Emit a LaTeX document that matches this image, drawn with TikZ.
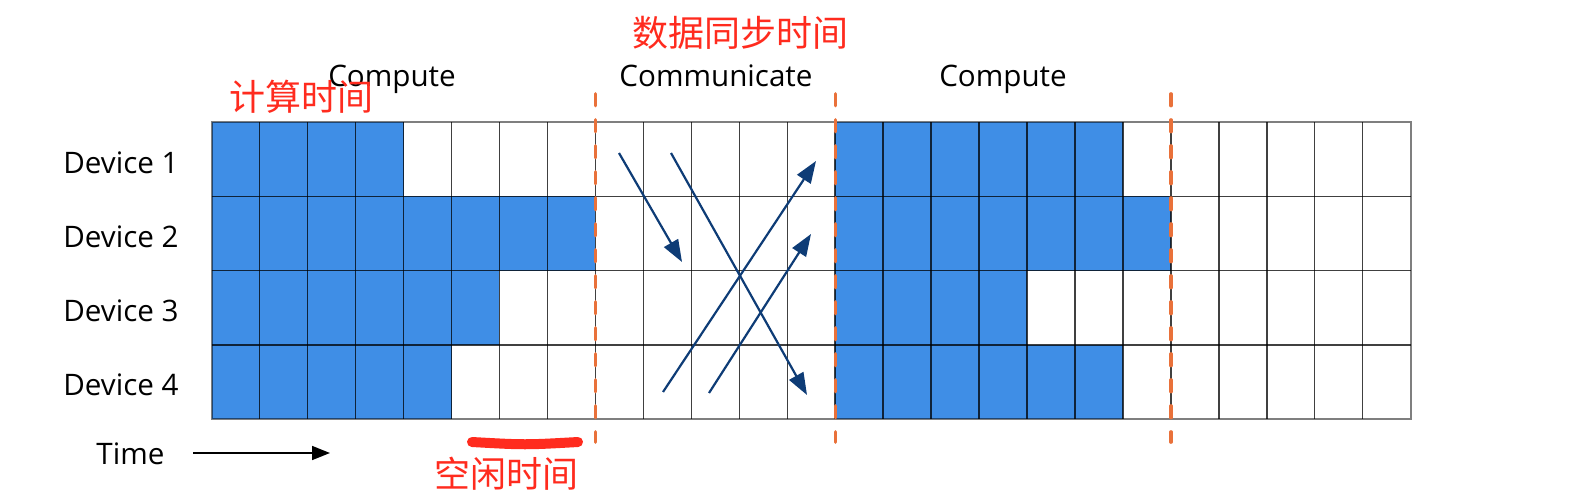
\documentclass[tikz,border=0pt]{standalone}
\usepackage{fontspec}
\setmainfont{Open Sans}
\newfontfamily\cjk{Noto Sans CJK SC}
\usetikzlibrary{arrows.meta}

\definecolor{cellblue}{HTML}{3F8EE6}
\definecolor{syncorange}{HTML}{E9713A}
\definecolor{msgnavy}{HTML}{0E3C76}
\definecolor{notered}{HTML}{FF2B1E}

\tikzset{
  phase/.style={font=\fontsize{14.8}{17}\selectfont, inner sep=0pt, anchor=base},
  device/.style={font=\fontsize{14.8}{17}\selectfont, inner sep=0pt, anchor=base west},
  note/.style={text=notered, font=\cjk\fontsize{18}{18}\selectfont, inner sep=0pt},
  busy/.style={fill=cellblue},
  cellline/.style={draw=black, draw opacity=0.75, line width=0.7pt},
  syncline/.style={draw=syncorange, line width=1.6pt, line cap=round, dash pattern=on 6pt off 7pt},
  msg/.style={draw=msgnavy, line width=1.1pt, -{Triangle[length=11pt,width=8pt]}}
}

\begin{document}
\begin{tikzpicture}[x=0.5pt,y=-0.5pt]
    \useasboundingbox (0,0) rectangle (1590,498);

    % 25 time slots x 4 devices
    \begin{scope}[shift={(211.7,122)},x=23.98pt,y=-37.15pt]
        \foreach \r/\slots in {0/{0,1,2,3,13,14,15,16,17,18},
                               1/{0,1,2,3,4,5,6,7,13,14,15,16,17,18,19},
                               2/{0,1,2,3,4,5,13,14,15,16},
                               3/{0,1,2,3,4,13,14,15,16,17,18}}
            \foreach \c in \slots
                \fill[busy] (\c,\r) rectangle ++(1,1);
        \foreach \c in {1,...,24}
            \draw[cellline] (\c,0) -- (\c,4);
        \foreach \r in {1,2,3}
            \draw[cellline] (0,\r) -- (25,\r);
        \draw[cellline, draw opacity=0.5, line width=0.8pt] (0,0) rectangle (25,4);

        \foreach \c in {8,13,20}
            \draw[syncline] (\c,-0.38) -- (\c,4.31);
    \end{scope}

    \node[phase] (compute1) at (392,86) {Compute};
    \node[phase] (comm) at (716,86) {Communicate};
    \node[phase] (compute2) at (1003,86) {Compute};

    \foreach \r in {1,...,4}
        \node[device] (dev\r) at (63,{173+74.3*(\r-1)}) {Device \r};

    % messages between devices
    \coordinate (from1) at (619,153);
    \coordinate (to2) at (682,262);
    \coordinate (from1b) at (671,153);
    \coordinate (to4) at (807,395);
    \coordinate (from4) at (663,392);
    \coordinate (to1) at (816,161);
    \coordinate (from4b) at (709,393);
    \coordinate (to2b) at (811,234);
    \draw[msg] (from1) -- (to2);
    \draw[msg] (from1b) -- (to4);
    \draw[msg] (from4) -- (to1);
    \draw[msg] (from4b) -- (to2b);

    \node[device] (time) at (96,464) {Time};
    \coordinate (timestart) at (193,453);
    \coordinate (timeend) at (330,453);
    \draw[line width=0.8pt, -{Triangle[length=9pt,width=7pt]}] (timestart) -- (timeend);

    \node[note] (synctime) at (740,33) {数据同步时间};
    \node[note] (computetime) at (301,97) {计算时间};
    \node[note] (idletime) at (506,474) {空闲时间};
    \coordinate (idlestart) at (472,442);
    \coordinate (idleend) at (578,442);
    \draw[notered, line width=5pt, line cap=round] (idlestart) .. controls (525,445) .. (idleend);

\end{tikzpicture}
\end{document}
